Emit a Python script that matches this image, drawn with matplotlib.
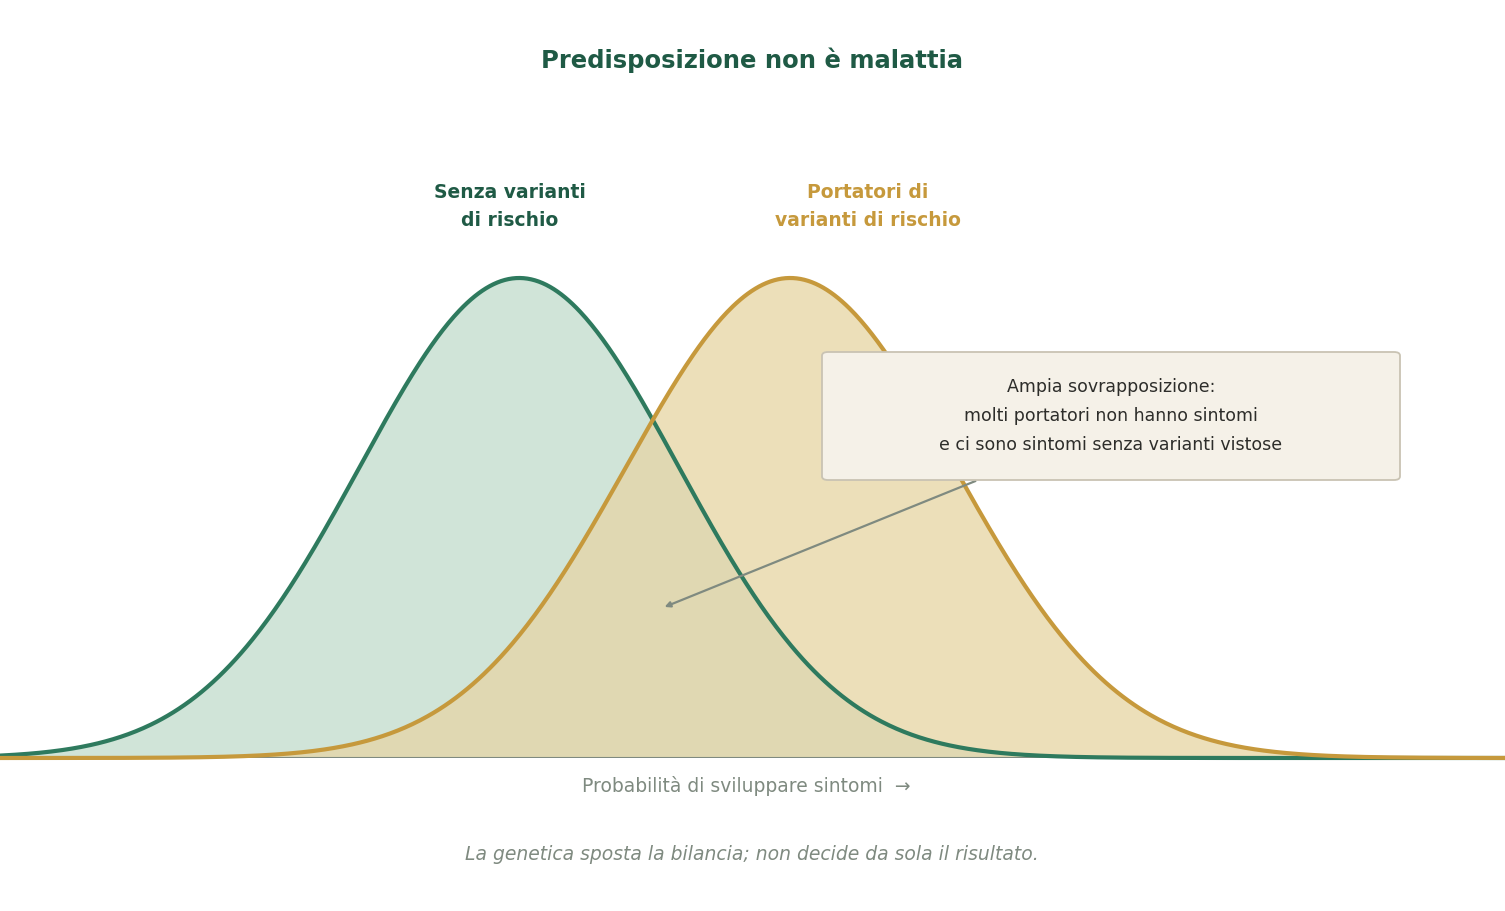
import numpy as np
import matplotlib
matplotlib.use("Agg")
import matplotlib.pyplot as plt
from matplotlib.patches import FancyBboxPatch

plt.rcParams['font.family'] = ['DejaVu Sans']

series_names = ["Senza varianti\ndi rischio", "Portatori di\nvarianti di rischio"]
means = [34.5, 52.5]      # position of peak on 0-100 risk scale
sds = [10.6, 10.9]
colors_line = ["#2e7a5e", "#c6993c"]
colors_fill = ["#d0e4d8", "#ecdfb9"]
label_colors = ["#1f5a45", "#c6993c"]

W, H = 1505, 911
fig = plt.figure(figsize=(W/100, H/100), dpi=100)
ax = fig.add_axes([0, (H-758)/H, 1, (758-278)/H])
ax.set_xlim(0, 100); ax.set_ylim(0, 1)
ax.axis("off")
x = np.linspace(0, 100, 800)
curves = [np.exp(-0.5*((x-m)/s)**2) for m, s in zip(means, sds)]
for y, fc in zip(curves, colors_fill):
    ax.fill_between(x, 0, y, color=fc, lw=0, zorder=1)
ov = np.minimum(curves[0], curves[1])
ax.fill_between(x, 0, ov, color="#e0d8b2", lw=0, zorder=2)
for y, lc in zip(curves, colors_line):
    ax.plot(x, y, color=lc, lw=3, zorder=4, clip_on=False)
ax.plot([40/15.05, 1465/15.05], [0, 0], color="#7f8a80", lw=1.5, zorder=3)

def px(xp, yp):
    return xp/W, 1-yp/H

fig.text(*px(752, 60), "Predisposizione non è malattia", ha="center", va="center",
         fontsize=17.5, fontweight="bold", color="#1f5a45")
fig.text(*px(510, 207), series_names[0], ha="center", va="center", fontsize=13.5,
         fontweight="bold", color=label_colors[0], linespacing=1.6)
fig.text(*px(868, 207), series_names[1], ha="center", va="center", fontsize=13.5,
         fontweight="bold", color=label_colors[1], linespacing=1.6)

x0, y0 = px(822, 480); x1, y1 = px(1400, 352)
box = FancyBboxPatch((x0, y0), x1-x0, y1-y0, boxstyle="round,pad=0,rounding_size=0.004",
                     transform=fig.transFigure, facecolor="#f5f1e8", edgecolor="#c9c3b3", lw=1.3, zorder=5)
fig.patches.append(box)
fig.text(*px(1111, 416), "Ampia sovrapposizione:\nmolti portatori non hanno sintomi\ne ci sono sintomi senza varianti vistose",
         ha="center", va="center", fontsize=12.5, color="#2d2d2a", linespacing=1.75, zorder=6)
fig.add_artist(matplotlib.patches.FancyArrowPatch(px(978, 480), px(662, 608), transform=fig.transFigure,
               arrowstyle="-|>", mutation_scale=8, color="#7f8a80", lw=1.6))

fig.text(*px(746, 786), "Probabilità di sviluppare sintomi  →", ha="center", va="center",
         fontsize=13.5, color="#7f8a80")
fig.text(*px(752, 855), "La genetica sposta la bilancia; non decide da sola il risultato.", ha="center",
         va="center", fontsize=13.5, color="#7f8a80", style="italic")
fig.savefig("out.png", dpi=100)
